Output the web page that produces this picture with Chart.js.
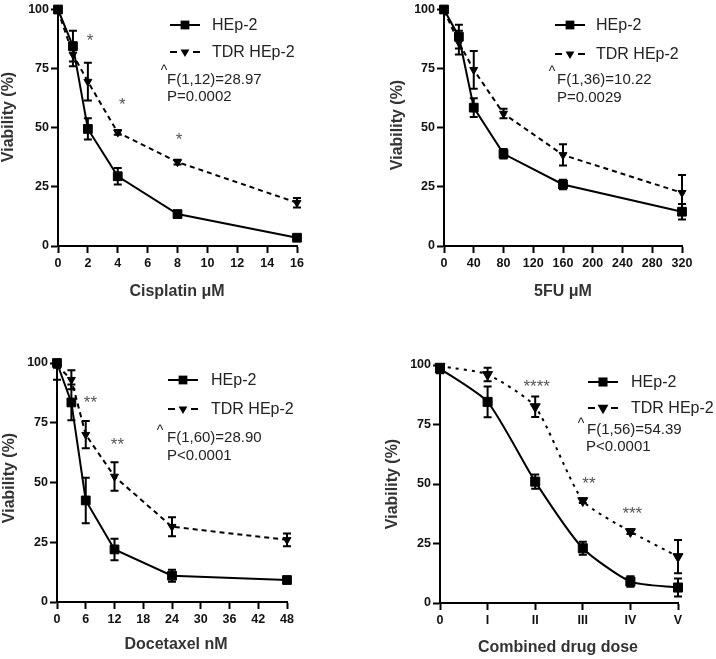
<!DOCTYPE html>
<html>
<head>
<meta charset="utf-8">
<script src="https://cdn.jsdelivr.net/npm/chart.js@4.4.0/dist/chart.umd.min.js"></script>
<style>
  body { margin: 0; background: #fff; width: 716px; height: 659px; position: relative; overflow: hidden; }
  canvas { position: absolute; }
</style>
</head>
<body>
<canvas id="c1" width="358" height="320" style="left:0;top:0"></canvas>
<canvas id="c2" width="358" height="320" style="left:358px;top:0"></canvas>
<canvas id="c3" width="358" height="339" style="left:0;top:320px"></canvas>
<canvas id="c4" width="358" height="339" style="left:358px;top:320px"></canvas>
<script>
// ---- data ----
const yTicks = [0, 25, 50, 75, 100];

// cisplatin (uM)
const cisDose = [0, 1, 2, 4, 8, 16];
const cisHep = [100, 84.5, 49.5, 29.5, 13.5, 3.5];
const cisHepErr = [1.5, 6.5, 4.5, 3.5, 1, 1];
const cisTdr = [99.5, 81, 69.5, 48, 35.5, 18.3];
const cisTdrErr = [1, 5, 8, 1, 1, 2];
const cisStars = [[2.14, 88.7, '*'], [4.3, 61.6, '*'], [8.1, 46.9, '*']];

// 5FU (uM)
const fuDose = [0, 20, 40, 80, 160, 320];
const fuHep = [100, 88.5, 58.5, 39, 26, 14.5];
const fuHepErr = [1, 5, 4, 2, 2, 3.3];
const fuTdr = [99.5, 86, 74.5, 56, 38.5, 22.5];
const fuTdrErr = [1, 5, 8, 2, 4.5, 7.5];

// docetaxel (nM)
const docDose = [0, 3, 6, 12, 24, 48];
const docHep = [100, 83.5, 42.5, 22, 11, 9.2];
const docHepErr = [7, 7.5, 9.5, 4.5, 2.5, 1];
const docTdr = [99, 93, 70, 52.5, 31.5, 26];
const docTdrErr = [1, 4, 5.7, 6, 4, 2.7];
const docStars = [[6.97, 85.5, '**'], [12.6, 67.9, '**']];

// combined drug dose
const comboLabels = ['0', 'I', 'II', 'III', 'IV', 'V'];
const comboHep = [98.5, 84.5, 51, 23, 9, 6.5];
const comboHepErr = [2, 6.5, 3, 2.7, 2.2, 3.8];
const comboTdr = [99.5, 96, 82.5, 43, 30, 19.5];
const comboTdrErr = [1, 2.8, 4.3, 1, 1, 7];
const comboStars = [[2.03, 92.7, '****'], [3.13, 51.9, '**'], [4.04, 39.3, '***']];

const FONT = '"Liberation Sans", Arial, sans-serif';
const XH = 30; // height given to the x scale box

// ---- panel layouts ----
const panels = [
  { id: 'c1', x: cisDose, hep: cisHep, hepErr: cisHepErr, tdr: cisTdr, tdrErr: cisTdrErr, stars: cisStars,
    xMax: 16, xStep: 2, area: [58, 8, 297, 246], sq: 6.2, tri: 4.6, dash: [5, 4],
    yTitle: [9, 117], xTitle: ['Cisplatin \u03bcM', 177, 292],
    legend: { x1: 170, x2: 200, mx: 185, tx: 212, y1: 25, y2: 52 },
    stats: { cx: 164, cy: 71, fx: 167, fy: 80, px: 167, py: 97, f: 'F(1,12)=28.97', p: 'P=0.0002' } },
  { id: 'c2', x: fuDose, hep: fuHep, hepErr: fuHepErr, tdr: fuTdr, tdrErr: fuTdrErr, stars: [],
    xMax: 320, xStep: 40, area: [86, 8, 324, 246], sq: 6.2, tri: 4.6, dash: [5, 4],
    yTitle: [40, 125], xTitle: ['5FU \u03bcM', 205, 292],
    legend: { x1: 197, x2: 227, mx: 212, tx: 238, y1: 25, y2: 54 },
    stats: { cx: 194, cy: 72, fx: 199, fy: 80, px: 199, py: 98, f: 'F(1,36)=10.22', p: 'P=0.0029' } },
  { id: 'c3', x: docDose, hep: docHep, hepErr: docHepErr, tdr: docTdr, tdrErr: docTdrErr, stars: docStars,
    xMax: 48, xStep: 6, area: [57, 43, 287, 282], sq: 6.2, tri: 4.6, dash: [5, 4],
    yTitle: [10, 158], xTitle: ['Docetaxel nM', 176, 325],
    legend: { x1: 168, x2: 198, mx: 183, tx: 211, y1: 60, y2: 89 },
    stats: { cx: 160, cy: 111, fx: 167, fy: 118, px: 167, py: 136, f: 'F(1,60)=28.90', p: 'P<0.0001' } },
  { id: 'c4', labels: comboLabels, hep: comboHep, hepErr: comboHepErr, tdr: comboTdr, tdrErr: comboTdrErr, stars: comboStars,
    area: [82, 45, 320, 283], sq: 6.4, tri: 5.8, dash: [3, 5], smooth: true,
    yTitle: [35, 164], xTitle: ['Combined drug dose', 200, 328],
    legend: { x1: 230, x2: 260, mx: 245, tx: 273, y1: 62, y2: 88 },
    stats: { cx: 223, cy: 104, fx: 229, fy: 110, px: 228, py: 127, f: 'F(1,56)=54.39', p: 'P<0.0001' } }
];

function drawTri(ctx, x, y, r) {
  const s = r * Math.sin(Math.PI / 3);
  ctx.beginPath();
  ctx.moveTo(x, y + r);
  ctx.lineTo(x - s, y - r / 2);
  ctx.lineTo(x + s, y - r / 2);
  ctx.closePath();
  ctx.fill();
}

// error bars: drawn through the y scale of each chart, cut at the top of the axis
const errorBars = {
  id: 'errorBars',
  afterDatasetsDraw(chart) {
    const ctx = chart.ctx, ys = chart.scales.y, a = chart.chartArea;
    ctx.save();
    ctx.beginPath();
    ctx.rect(a.left - 10, a.top - 1, a.right - a.left + 20, a.bottom - a.top + 12);
    ctx.clip();
    ctx.strokeStyle = '#000';
    ctx.lineWidth = 2;
    chart.data.datasets.forEach((ds, i) => {
      const meta = chart.getDatasetMeta(i);
      meta.data.forEach((pt, j) => {
        const v = chart.data.labels && chart.data.labels.length ? ds.data[j] : ds.data[j].y;
        const e = ds.err[j];
        const top = ys.getPixelForValue(v + e), bot = ys.getPixelForValue(v - e);
        ctx.beginPath();
        ctx.moveTo(pt.x, top); ctx.lineTo(pt.x, bot);
        ctx.moveTo(pt.x - 4, top); ctx.lineTo(pt.x + 4, top);
        ctx.moveTo(pt.x - 4, bot); ctx.lineTo(pt.x + 4, bot);
        ctx.stroke();
      });
    });
    ctx.restore();
  }
};

function decor(p) {
  return {
    id: 'decor',
    afterDraw(chart) {
      const ctx = chart.ctx;
      ctx.save();
      // axis titles
      ctx.fillStyle = '#333';
      ctx.font = 'bold 16px ' + FONT;
      ctx.textAlign = 'center';
      ctx.textBaseline = 'middle';
      ctx.fillText(p.xTitle[0], p.xTitle[1], p.xTitle[2]);
      ctx.save();
      ctx.translate(p.yTitle[0], p.yTitle[1]);
      ctx.rotate(-Math.PI / 2);
      ctx.fillText('Viability (%)', 0, 0);
      ctx.restore();

      // legend
      const L = p.legend;
      ctx.strokeStyle = '#000';
      ctx.fillStyle = '#000';
      ctx.lineWidth = 2;
      ctx.beginPath();
      ctx.moveTo(L.x1, L.y1); ctx.lineTo(L.x2, L.y1);
      ctx.moveTo(L.x1, L.y2); ctx.lineTo(L.x1 + 7, L.y2);
      ctx.moveTo(L.x2 - 7, L.y2); ctx.lineTo(L.x2, L.y2);
      ctx.stroke();
      const side = p.sq * Math.SQRT2;
      ctx.fillRect(L.mx - side / 2, L.y1 - side / 2, side, side);
      drawTri(ctx, L.mx, L.y2, p.tri + 0.5);
      ctx.fillStyle = '#222';
      ctx.font = '16px ' + FONT;
      ctx.textAlign = 'left';
      ctx.fillText('HEp-2', L.tx, L.y1 + 1);
      ctx.fillText('TDR HEp-2', L.tx, L.y2 + 1);

      // stats
      const S = p.stats;
      ctx.font = '15px ' + FONT;
      ctx.fillText(S.f, S.fx, S.fy);
      ctx.fillText(S.p, S.px, S.py);
      ctx.font = '14px ' + FONT;
      ctx.textAlign = 'center';
      ctx.fillText('^', S.cx, S.cy);

      // significance marks, placed through the scales
      ctx.fillStyle = '#555';
      ctx.font = '17px ' + FONT;
      ctx.textBaseline = 'alphabetic';
      p.stars.forEach(([sx, sy, t]) => {
        const px = chart.scales.x.getPixelForValue(sx);
        const py = chart.scales.y.getPixelForValue(sy);
        ctx.fillText(t, px, py + 10);
      });
      ctx.restore();
    }
  };
}

function makeChart(p) {
  const canvas = document.getElementById(p.id);
  const W = canvas.width, H = canvas.height;
  const isCat = !!p.labels;
  const pts = (ys) => isCat ? ys : ys.map((y, i) => ({ x: p.x[i], y: y }));
  const tickFont = { family: FONT, size: 12.5, weight: 'bold' };
  const grid = { drawOnChartArea: false, drawTicks: true, tickLength: 7, tickWidth: 2, tickColor: '#000' };
  const border = { display: true, color: '#000', width: 2 };
  const lineCommon = {
    borderColor: '#000', backgroundColor: '#000', pointBackgroundColor: '#000', pointBorderColor: '#000',
    borderWidth: 2, pointBorderWidth: 1, clip: false,
    tension: p.smooth ? 0.2 : 0
  };

  const xScale = isCat
    ? { type: 'category', offset: false, ticks: { font: tickFont, color: '#111', padding: 3, autoSkip: false, maxRotation: 0 } }
    : { type: 'linear', min: 0, max: p.xMax, ticks: { stepSize: p.xStep, font: tickFont, color: '#111', padding: 3, autoSkip: false, maxRotation: 0 } };
  xScale.grid = grid;
  xScale.border = border;
  xScale.afterFit = (s) => { s.height = XH; };

  new Chart(canvas, {
    type: 'line',
    data: {
      labels: isCat ? p.labels : undefined,
      datasets: [
        Object.assign({ label: 'HEp-2', data: pts(p.hep), err: p.hepErr, pointStyle: 'rect', pointRadius: p.sq }, lineCommon),
        Object.assign({ label: 'TDR HEp-2', data: pts(p.tdr), err: p.tdrErr, pointStyle: 'triangle', pointRotation: 180,
          pointRadius: p.tri, borderDash: p.dash }, lineCommon)
      ]
    },
    options: {
      responsive: false,
      animation: false,
      events: [],
      layout: { padding: { left: 0, top: p.area[1], right: W - p.area[2], bottom: H - p.area[3] - XH } },
      plugins: { legend: { display: false }, tooltip: { enabled: false } },
      scales: {
        x: xScale,
        y: {
          min: 0, max: 100,
          afterBuildTicks: (s) => { s.ticks = yTicks.map(v => ({ value: v })); },
          ticks: { font: tickFont, color: '#111', padding: 2 },
          grid: grid, border: border,
          afterFit: (s) => { s.width = p.area[0]; }
        }
      }
    },
    plugins: [errorBars, decor(p)]
  });
}

panels.forEach(makeChart);
</script>
</body>
</html>
